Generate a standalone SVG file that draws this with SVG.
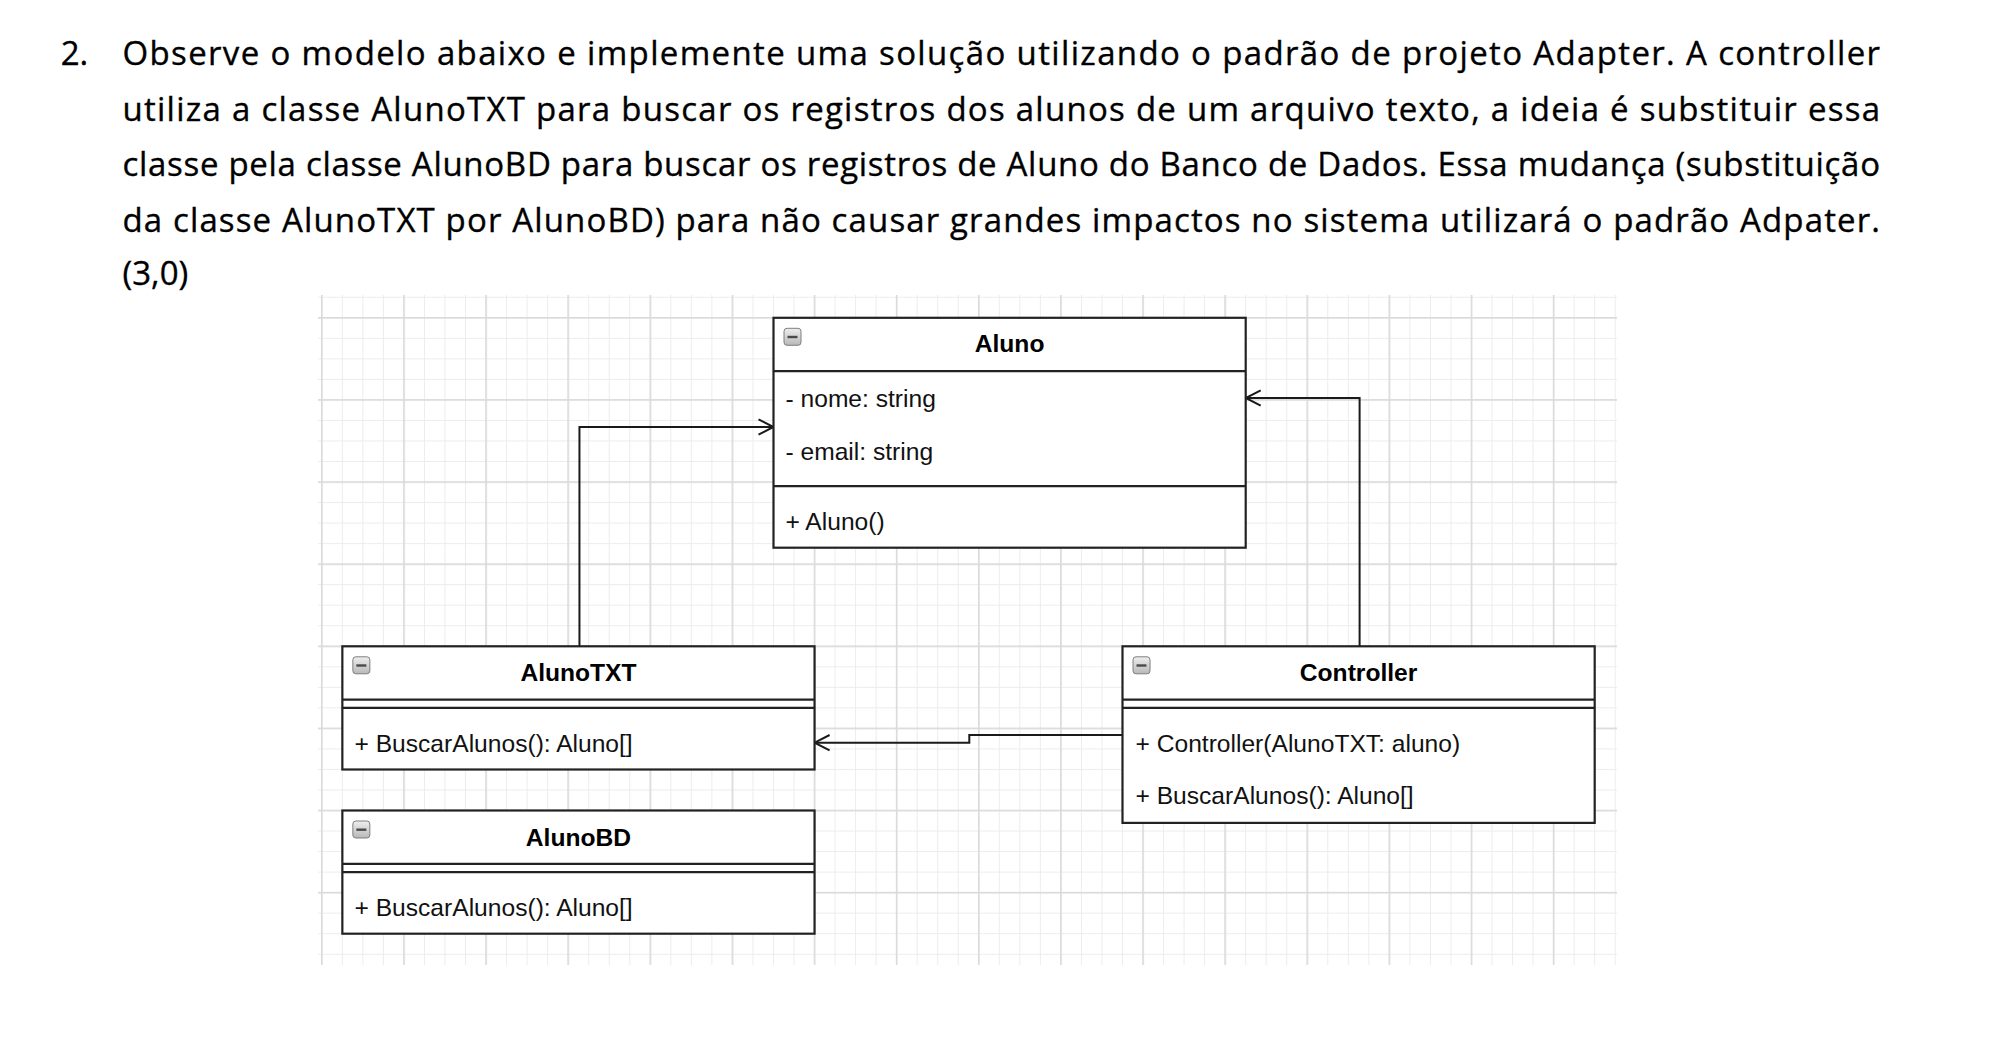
<svg xmlns="http://www.w3.org/2000/svg" width="1990" height="1054" viewBox="0 0 1990 1054">
<defs>
<style>
.q{font-family:"Open Sans","Noto Sans",sans-serif;font-size:33px;fill:#000;stroke:#000;stroke-width:0.35}
.box{fill:#fff;stroke:#222;stroke-width:2.2}
.sep{stroke:#222;stroke-width:2.2;fill:none}
.t{font-family:"Liberation Sans",Arial,sans-serif;font-size:24.6px;fill:#111}
.h{font-family:"Liberation Sans",Arial,sans-serif;font-size:24.6px;font-weight:bold;text-anchor:middle;fill:#000}
.edge{fill:none;stroke:#1a1a1a;stroke-width:2}
</style>
<pattern id="gmin" patternUnits="userSpaceOnUse" x="649.8" y="317.3" width="20.53" height="20.53">
<rect x="0" y="0" width="1" height="20.53" fill="#ececec"/>
<rect x="0" y="0" width="20.53" height="1" fill="#ececec"/>
</pattern>
<pattern id="gmaj" patternUnits="userSpaceOnUse" x="649.5" y="317" width="82.12" height="82.12">
<rect x="0" y="0" width="1.6" height="82.12" fill="#dadada"/>
<rect x="0" y="0" width="82.12" height="1.6" fill="#dadada"/>
</pattern>
<linearGradient id="cg" x1="0" y1="0" x2="0" y2="1">
<stop offset="0" stop-color="#eeeeee"/>
<stop offset="1" stop-color="#b8b8b8"/>
</linearGradient>
<g id="col">
<rect x="0.5" y="0.5" width="17" height="17" rx="3" fill="url(#cg)" stroke="#7f7f7f" stroke-width="1"/>
<rect x="4" y="8" width="10" height="2.4" fill="#4a4a4a"/>
</g>
<marker id="arr" markerUnits="userSpaceOnUse" viewBox="0 0 20 20" refX="16" refY="9" markerWidth="20" markerHeight="20" orient="auto">
<path d="M1 1.3 L16 9 L1 16.7" fill="none" stroke="#1a1a1a" stroke-width="2"/>
</marker>
</defs>

<rect width="1990" height="1054" fill="#fff"/>

<g id="question">
<text class="q" x="60.7" y="65">2.</text>
<text class="q" x="122.5" y="65" textLength="1757.5" lengthAdjust="spacing">Observe o modelo abaixo e implemente uma solução utilizando o padrão de projeto Adapter. A controller</text>
<text class="q" x="122.5" y="120.5" textLength="1757.5" lengthAdjust="spacing">utiliza a classe AlunoTXT para buscar os registros dos alunos de um arquivo texto, a ideia é substituir essa</text>
<text class="q" x="122.5" y="176" textLength="1757.5" lengthAdjust="spacing">classe pela classe AlunoBD para buscar os registros de Aluno do Banco de Dados. Essa mudança (substituição</text>
<text class="q" x="122.5" y="231.5" textLength="1757.5" lengthAdjust="spacing">da classe AlunoTXT por AlunoBD) para não causar grandes impactos no sistema utilizará o padrão Adpater.</text>
<text class="q" x="122.5" y="285">(3,0)</text>
</g>

<g id="grid">
<rect x="318" y="295" width="1299" height="670" fill="url(#gmin)"/>
<rect x="318" y="295" width="1299" height="670" fill="url(#gmaj)"/>
</g>

<g id="connectors">
<path class="edge" d="M579.45 646.3 V427 H773.5" marker-end="url(#arr)"/>
<path class="edge" d="M1359.6 646.3 V398 H1245.7" marker-end="url(#arr)"/>
<path class="edge" d="M1122.5 735 H969.3 V742.7 H814.6" marker-end="url(#arr)"/>
</g>

<g id="Aluno">
<rect class="box" x="773.5" y="317.8" width="472.2" height="229.9"/>
<path class="sep" d="M773.5 371.2 H1245.7 M773.5 486.2 H1245.7"/>
<use href="#col" x="783.5" y="327.8"/>
<text class="h" x="1009.6" y="352">Aluno</text>
<text class="t" x="785.5" y="407">- nome: string</text>
<text class="t" x="785.5" y="460">- email: string</text>
<text class="t" x="785.5" y="530">+ Aluno()</text>
</g>

<g id="AlunoTXT">
<rect class="box" x="342.35" y="646.3" width="472.2" height="123.2"/>
<path class="sep" d="M342.35 699.7 H814.55 M342.35 707.9 H814.55"/>
<use href="#col" x="352.35" y="656.3"/>
<text class="h" x="578.45" y="681">AlunoTXT</text>
<text class="t" x="354.5" y="752">+ BuscarAlunos(): Aluno[]</text>
</g>

<g id="AlunoBD">
<rect class="box" x="342.35" y="810.5" width="472.2" height="123.2"/>
<path class="sep" d="M342.35 863.9 H814.55 M342.35 872.1 H814.55"/>
<use href="#col" x="352.35" y="820.5"/>
<text class="h" x="578.45" y="845.5">AlunoBD</text>
<text class="t" x="354.5" y="916">+ BuscarAlunos(): Aluno[]</text>
</g>

<g id="Controller">
<rect class="box" x="1122.5" y="646.3" width="472.2" height="176.6"/>
<path class="sep" d="M1122.5 699.7 H1594.7 M1122.5 707.9 H1594.7"/>
<use href="#col" x="1132.5" y="656.3"/>
<text class="h" x="1358.6" y="681">Controller</text>
<text class="t" x="1135.5" y="752">+ Controller(AlunoTXT: aluno)</text>
<text class="t" x="1135.5" y="804">+ BuscarAlunos(): Aluno[]</text>
</g>
</svg>
